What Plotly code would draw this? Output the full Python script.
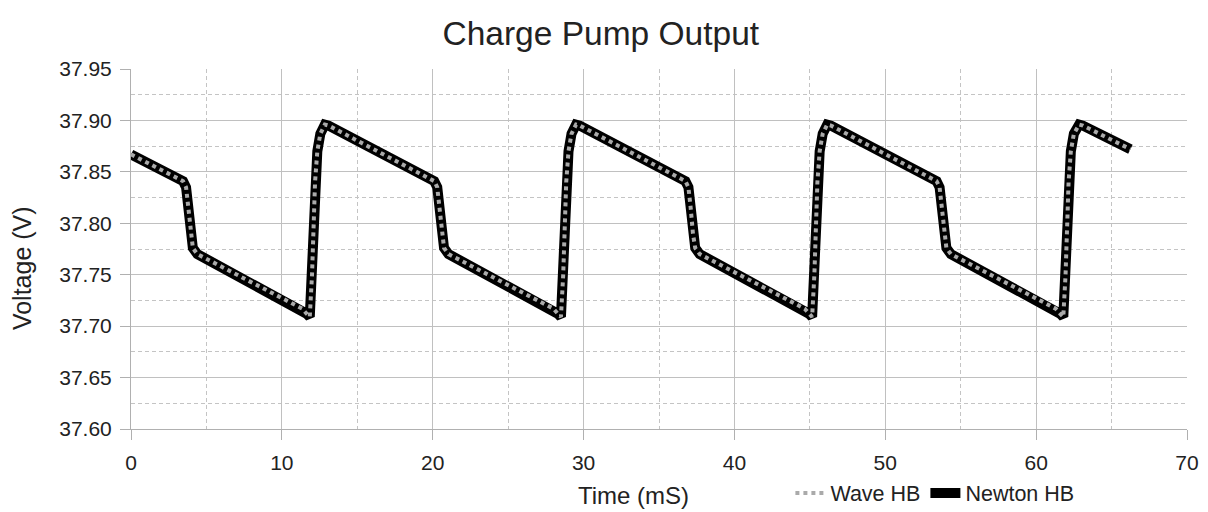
import plotly.graph_objects as go

# Time axis (ms) and simulated output voltage (V)
time_ms = [
    0.00,
    3.45, 3.65, 3.80, 3.95, 4.10, 4.40, 11.35, 11.65, 11.85, 12.00, 12.10, 12.20, 12.35, 12.55, 12.85, 13.10,
    20.10, 20.30, 20.45, 20.60, 20.75, 21.05, 28.00, 28.30, 28.50, 28.65, 28.75, 28.85, 29.00, 29.20, 29.50, 29.75,
    36.75, 36.95, 37.10, 37.25, 37.40, 37.70, 44.65, 44.95, 45.15, 45.30, 45.40, 45.50, 45.65, 45.85, 46.15, 46.40,
    53.40, 53.60, 53.75, 53.90, 54.05, 54.35, 61.30, 61.60, 61.80, 61.95, 62.05, 62.15, 62.30, 62.50, 62.85, 63.10,
    66.25,
]
newton_hb = [
    37.867,
    37.841, 37.835, 37.815, 37.790, 37.776, 37.770, 37.717, 37.712, 37.709, 37.750, 37.800, 37.840, 37.870, 37.887, 37.896, 37.895,
    37.841, 37.835, 37.815, 37.790, 37.776, 37.770, 37.717, 37.712, 37.709, 37.750, 37.800, 37.840, 37.870, 37.887, 37.896, 37.895,
    37.841, 37.835, 37.815, 37.790, 37.776, 37.770, 37.717, 37.712, 37.709, 37.750, 37.800, 37.840, 37.870, 37.887, 37.896, 37.895,
    37.841, 37.835, 37.815, 37.790, 37.776, 37.770, 37.717, 37.712, 37.709, 37.750, 37.800, 37.840, 37.870, 37.887, 37.896, 37.895,
    37.872,
]
# the two solvers overlap on the plot
wave_hb = list(newton_hb)

FONT = "Liberation Sans, Arial, sans-serif"
TEXT = "#222222"

fig = go.Figure()

fig.add_trace(go.Scatter(
    x=time_ms, y=newton_hb, mode="lines", name="Newton HB",
    line=dict(color="black", width=10),
))
fig.add_trace(go.Scatter(
    x=time_ms, y=wave_hb, mode="lines", name="Wave HB",
    line=dict(color="#aaaaaa", width=4, dash="4px,4px"),
))

# page body has an 8px margin, so the figure is a bit smaller than the window
fig.update_layout(
    width=1200,
    height=504,
    margin=dict(l=123, r=21, t=61, b=83, autoexpand=False),
    title=dict(text="Charge Pump Output", x=0.494, xanchor="center",
               y=0.950, yanchor="middle",
               font=dict(family=FONT, size=33.5, color=TEXT)),
    font=dict(family=FONT, size=21, color=TEXT),
    plot_bgcolor="white",
    paper_bgcolor="white",
    showlegend=True,
    legend=dict(
        orientation="h", xref="container", yref="container",
        x=0.652, xanchor="left", y=0.0377, yanchor="middle",
        traceorder="reversed", font=dict(size=21.5),
        bgcolor="rgba(0,0,0,0)", itemwidth=30,
    ),
)

# axis titles placed by hand, like the original
fig.add_annotation(text="Time (mS)", xref="paper", yref="paper",
                   x=0.4763, y=-0.186, xanchor="center", yanchor="middle",
                   showarrow=False, font=dict(size=24, color=TEXT))
fig.add_annotation(text="Voltage (V)", xref="paper", yref="paper",
                   x=-0.1032, y=0.447, xanchor="center", yanchor="middle",
                   textangle=-90, showarrow=False, font=dict(size=25, color=TEXT))

fig.update_xaxes(
    range=[0, 70], dtick=10, tick0=0,
    showgrid=True, gridcolor="#c0c0c0", gridwidth=1,
    minor=dict(dtick=5, showgrid=True, gridcolor="#c4c4c4", griddash="4px,3px"),
    showline=True, linecolor="#b0b0b0", linewidth=1,
    ticks="outside", ticklen=10, tickcolor="#b0b0b0", ticklabelstandoff=5,
    zeroline=False,
)
fig.update_yaxes(
    range=[37.60, 37.95], dtick=0.05, tick0=37.60, tickformat=".2f",
    showgrid=True, gridcolor="#c0c0c0", gridwidth=1,
    minor=dict(dtick=0.025, showgrid=True, gridcolor="#c4c4c4", griddash="4px,3px"),
    showline=True, linecolor="#b0b0b0", linewidth=1,
    ticks="outside", ticklen=10, tickcolor="#b0b0b0", ticklabelstandoff=4,
    zeroline=False,
)

fig.write_html("out.html")
